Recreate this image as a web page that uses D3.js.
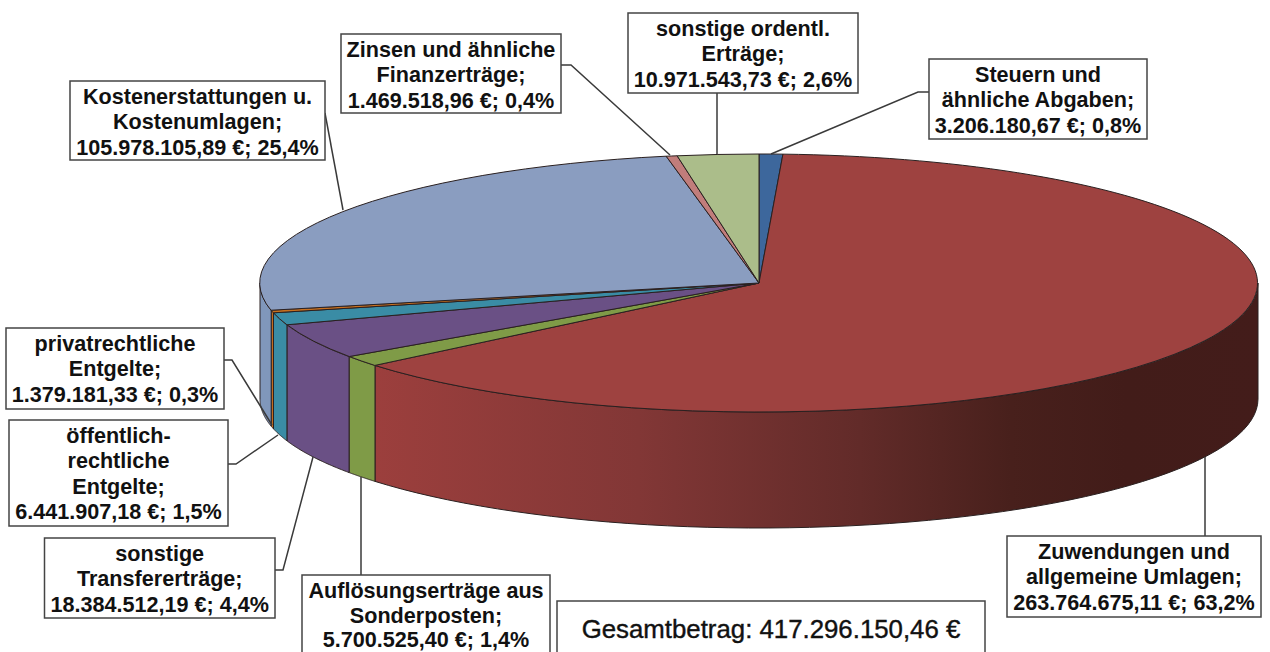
<!DOCTYPE html>
<html><head><meta charset="utf-8">
<script src="https://cdn.jsdelivr.net/npm/d3@7/dist/d3.min.js"></script>
<style>html,body{margin:0;padding:0;background:#fff;overflow:hidden}svg{display:block}</style>
</head><body><svg id="c" width="1270" height="652"></svg>
<script>
const categories = [
  ["Steuern und","ähnliche Abgaben;"],
  ["Zuwendungen und","allgemeine Umlagen;"],
  ["Auflösungserträge aus","Sonderposten;"],
  ["sonstige","Transfererträge;"],
  ["öffentlich-","rechtliche","Entgelte;"],
  ["privatrechtliche","Entgelte;"],
  ["Kostenerstattungen u.","Kostenumlagen;"],
  ["Zinsen und ähnliche","Finanzerträge;"],
  ["sonstige ordentl.","Erträge;"]
];
const values = [3206180.67,263764675.11,5700525.40,18384512.19,6441907.18,1379181.33,105978105.89,1469518.96,10971543.73];
const totalLabel = "Gesamtbetrag: 417.296.150,46 €";

const topColors  = ["#3d679c","#9e4240","#7f9b47","#6a5085","#3a8ca5","#c8701f","#8a9dc0","#c17d7b","#abbd8a"];
const sideColors = ["#3d679c","url(#redSide)","#7f9b47","#6a5085","#3a8ca5","#c8701f","#8097bb","#c17d7b","#abbd8a"];
// box [x0,y0,x1,y1], leader polyline
const boxes = [
  [929,59,1147,139],[1007,536,1261,617],[302,575,550,662],[44.5,538,275,618],
  [9,420,228,526],[6,328,224,409],[70,81,325,160],[341,34,561,113],[628,13,858,93]
];
const leaders = [
  [[929,92],[918,92],[771,154]],
  [[1205,536],[1205,457]],
  [[361,575],[361,477]],
  [[275,570],[283,570],[313,457]],
  [[228,464],[236,464],[278,435]],
  [[224,360],[232,360],[272,425]],
  [[325,113],[343,210]],
  [[561,65],[571,65],[670,155]],
  [[717,93],[717,154]]
];

const svg = d3.select("#c");
const sx = d3.scaleLinear().domain([-1,1]).range([260,1258]);
const sy = d3.scaleLinear().domain([-1,1]).range([154,412]);
const depth = 116;
const pie = d3.pie().sort(null).value(d=>d)(values);
const locale = d3.formatLocale({decimal:",",thousands:".",grouping:[3],currency:[""," €"],percent:"%"});
const fmtMoney = locale.format("$,.2f"), fmtPct = locale.format(".1%");
const total = d3.sum(values);

const defs = svg.append("defs");
const g = defs.append("linearGradient").attr("id","redSide").attr("gradientUnits","userSpaceOnUse")
  .attr("x1",374).attr("x2",1258).attr("y1",0).attr("y2",0);
[[0,"#9c3f3d"],[0.3,"#823736"],[0.55,"#622b29"],[0.72,"#48201c"],[0.85,"#421c19"],[1,"#431c1a"]]
  .forEach(([o,c])=>g.append("stop").attr("offset",o).attr("stop-color",c));

const ex = a => sx(Math.sin(a)), ey = a => sy(-Math.cos(a));
const samples = (a0,a1) => d3.range(0,61).map(i=>a0+(a1-a0)*i/60);
const stroke = "#2a2020";

// sides: only the front half of the rim is visible
const sides = svg.append("g");
pie.forEach((d,i)=>{
  const a0 = Math.max(d.startAngle,Math.PI/2), a1 = Math.min(d.endAngle,Math.PI*1.5);
  if(a1<=a0) return;
  const upper = samples(a0,a1).map(a=>[ex(a),ey(a)]);
  const lower = samples(a1,a0).map(a=>[ex(a),ey(a)+depth]);
  sides.append("path").attr("d",d3.line()(upper.concat(lower))+"Z")
    .attr("fill",sideColors[i]).attr("stroke",stroke).attr("stroke-width",1);
});

// top face
const arc = d3.arc().innerRadius(0).outerRadius(1);
const topFace = svg.append("g").attr("transform",`translate(${sx(0)},${sy(0)}) scale(${sx(1)-sx(0)},${sy(1)-sy(0)})`);
topFace.selectAll("path").data(pie).join("path").attr("d",arc)
  .attr("fill",(d,i)=>topColors[i])
  .attr("stroke",stroke).attr("stroke-width",1).attr("vector-effect","non-scaling-stroke");

// leaders
svg.append("g").selectAll("path").data(leaders).join("path")
  .attr("d",d=>d3.line()(d)).attr("fill","none").attr("stroke","#3a3a3a").attr("stroke-width",1.5);

// labels
const font = "'Liberation Sans',Arial,sans-serif";
const lab = svg.append("g");
categories.forEach((lines,i)=>{
  const b = boxes[i];
  lab.append("rect").attr("x",b[0]).attr("y",b[1]).attr("width",b[2]-b[0]).attr("height",b[3]-b[1])
    .attr("fill","#fff").attr("stroke","#444").attr("stroke-width",1.5);
  const all = lines.concat([fmtMoney(values[i])+"; "+fmtPct(values[i]/total)]);
  all.forEach((t,j)=>lab.append("text").attr("x",(b[0]+b[2])/2).attr("y",Math.min(b[1]+23+j*25.3,647))
    .attr("text-anchor","middle").attr("font-family",font).attr("font-weight","bold")
    .attr("font-size",21.6).attr("fill","#111").text(t));
});
lab.append("rect").attr("x",557).attr("y",601).attr("width",428).attr("height",70)
  .attr("fill","#fff").attr("stroke","#444").attr("stroke-width",1.5);
lab.append("text").attr("x",771).attr("y",638).attr("text-anchor","middle")
  .attr("font-family",font).attr("font-size",25.8).attr("fill","#111")
  .attr("stroke","#111").attr("stroke-width",0.4).text(totalLabel);
</script></body></html>
